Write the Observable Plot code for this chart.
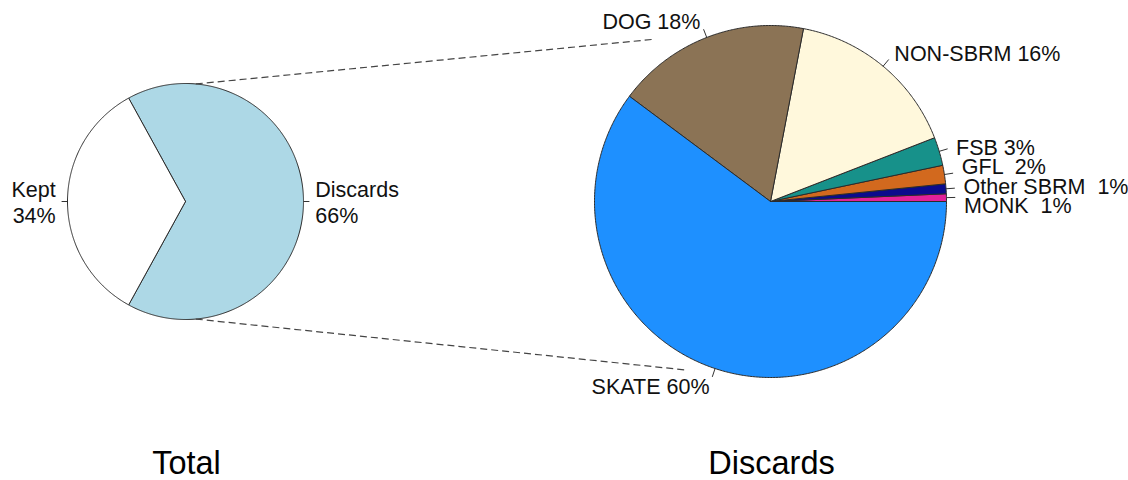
<!DOCTYPE html>
<html>
<head>
<meta charset="utf-8">
<script src="https://cdn.jsdelivr.net/npm/d3@7"></script>
<script src="https://cdn.jsdelivr.net/npm/@observablehq/plot@0.6"></script>
<style>
  html, body { margin: 0; padding: 0; background: #fff; }
  #chart svg { display: block; }
</style>
</head>
<body>
<div id="chart"></div>
<script>
// ---------- data ----------
const totalCategories = ["Discards", "Kept"];
const totalValues = [66, 34];
const totalLabels = ["Discards\n66%", "Kept\n34%"];
const totalColors = ["#add8e6", "#ffffff"];

const discardCategories = ["MONK", "Other SBRM", "GFL", "FSB", "NON-SBRM", "DOG", "SKATE"];
const discardValues = [0.7, 0.9, 1.7, 2.6, 16.1, 17.8, 60.2];
const discardLabels = ["MONK  1%", "Other SBRM  1%", "GFL  2%", "FSB 3%", "NON-SBRM 16%", "DOG 18%", "SKATE 60%"];
const discardColors = ["#e2219a", "#0b0b8c", "#d2691e", "#17918a", "#fff8dc", "#8b7355", "#1e90ff"];

const panelTitles = ["Total", "Discards"];

// ---------- layout ----------
const W = 1128, H = 480;
const pies = [
  {cx: 185, cy: 201, r: 118, start: -totalValues[0] / 100 * 180,
   cats: totalCategories, vals: totalValues, labels: totalLabels, colors: totalColors},
  {cx: 770, cy: 201, r: 176, start: 0,
   cats: discardCategories, vals: discardValues, labels: discardLabels, colors: discardColors}
];
// dashed connectors: from angle on the Total pie to a point near the Discards pie
const connectors = [
  {fromAngle: 85, toAngle: 125.7, toReach: 1.135},
  {fromAngle: -85, toAngle: 243.8, toReach: 1.068}
];

const rad = a => a * Math.PI / 180;
const px = (p, a, k) => p.cx + k * p.r * Math.cos(rad(a));
const py = (p, a, k) => p.cy - k * p.r * Math.sin(rad(a));

const slices = [];
const labelItems = [];
pies.forEach((p, pi) => {
  const total = d3.sum(p.vals);
  let acc = p.start;
  p.vals.forEach((v, i) => {
    const a0 = acc, a1 = acc + v / total * 360;
    acc = a1;
    const pts = [{x: p.cx, y: p.cy}];
    const n = Math.max(2, Math.ceil((a1 - a0) / 0.5));
    for (let j = 0; j <= n; j++) {
      const a = a0 + (a1 - a0) * j / n;
      pts.push({x: px(p, a, 1), y: py(p, a, 1)});
    }
    pts.push({x: p.cx, y: p.cy});
    slices.push({pts, color: p.colors[i]});
    const mid = (a0 + a1) / 2;
    const right = Math.cos(rad(mid)) >= 0;
    labelItems.push({
      pie: pi, text: p.labels[i], right,
      tx1: px(p, mid, 1), ty1: py(p, mid, 1),
      tx2: px(p, mid, 1.05), ty2: py(p, mid, 1.05),
      x: px(p, mid, 1.1), y0: py(p, mid, 1.1), y: py(p, mid, 1.1)
    });
  });
});

// spread crowded labels vertically around their mean
function spread(items, gap) {
  items.sort((a, b) => a.y0 - b.y0);
  let clusters = items.map(d => ({items: [d], mean: d.y0}));
  const top = c => c.mean - (c.items.length - 1) * gap / 2;
  let merged = true;
  while (merged) {
    merged = false;
    for (let i = 0; i < clusters.length - 1; i++) {
      const a = clusters[i], b = clusters[i + 1];
      const aBottom = top(a) + (a.items.length - 1) * gap;
      if (top(b) - aBottom < gap) {
        const its = [...a.items, ...b.items];
        clusters.splice(i, 2, {items: its, mean: d3.mean(its, d => d.y0)});
        merged = true;
        break;
      }
    }
  }
  clusters.forEach(c => c.items.forEach((d, i) => { d.y = top(c) + i * gap; }));
}
pies.forEach((p, pi) => {
  spread(labelItems.filter(d => d.pie === pi && d.right), 19.3);
  spread(labelItems.filter(d => d.pie === pi && !d.right), 19.3);
});

const connectorLines = connectors.map(c => ({
  x1: px(pies[0], c.fromAngle, 1), y1: py(pies[0], c.fromAngle, 1),
  x2: px(pies[1], c.toAngle, c.toReach), y2: py(pies[1], c.toAngle, c.toReach)
}));

const font = "'Liberation Sans', Arial, Helvetica, sans-serif";

const marks = [
  ...slices.map(s => Plot.line(s.pts, {
    x: "x", y: "y", fill: s.color, stroke: "#2b2b2b", strokeWidth: 1,
    strokeLinejoin: "round"
  })),
  Plot.link(connectorLines, {
    x1: "x1", y1: "y1", x2: "x2", y2: "y2",
    stroke: "#444", strokeWidth: 1.2, strokeDasharray: "7,4"
  }),
  Plot.link(labelItems, {
    x1: "tx1", y1: "ty1", x2: "tx2", y2: "ty2", stroke: "#333", strokeWidth: 1
  }),
  Plot.text(labelItems.filter(d => d.right), {
    x: "x", y: "y", text: "text", textAnchor: "start", lineAnchor: "middle",
    fontSize: 21.5, lineHeight: 1.2, fill: "#111", fontFamily: font
  }),
  Plot.text(labelItems.filter(d => !d.right), {
    x: "x", y: "y", text: "text", textAnchor: "end", lineAnchor: "middle",
    fontSize: 21.5, lineHeight: 1.2, fill: "#111", fontFamily: font
  }),
  Plot.text(panelTitles, {
    x: (d, i) => pies[i].cx + 1, y: () => 463, text: d => d,
    textAnchor: "middle", lineAnchor: "middle",
    fontSize: 32.5, fill: "#000", fontFamily: font
  })
];

const chart = Plot.plot({
  width: W, height: H,
  margin: 0,
  x: {domain: [0, W], range: [0, W], axis: null},
  y: {domain: [0, H], range: [0, H], axis: null},
  style: {background: "#fff", fontFamily: font, overflow: "visible"},
  marks
});
document.getElementById("chart").appendChild(chart);
</script>
</body>
</html>
